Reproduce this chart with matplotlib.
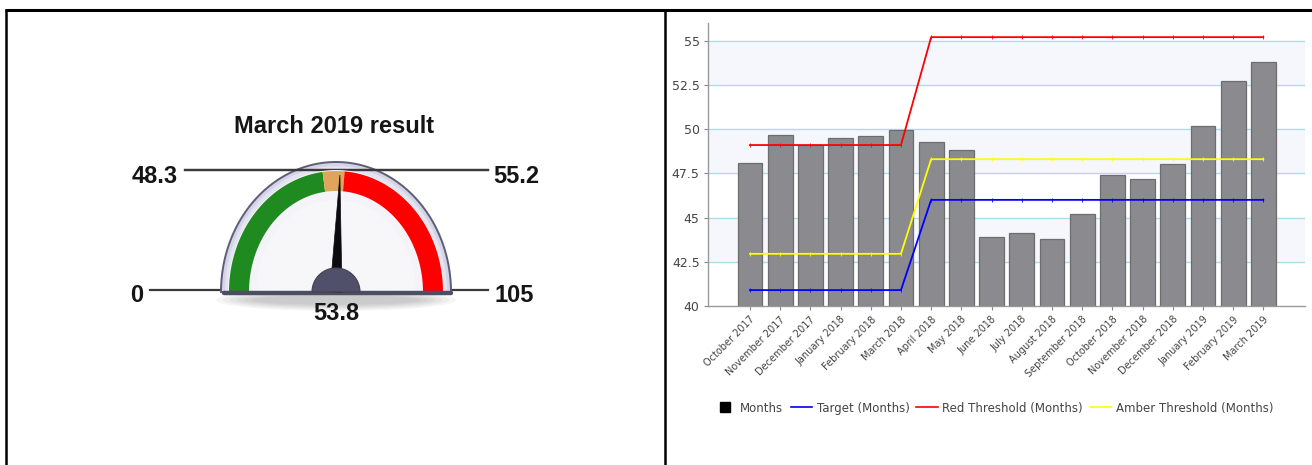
import matplotlib
matplotlib.use("Agg")
import matplotlib.pyplot as plt
import numpy as np
from matplotlib.lines import Line2D
from matplotlib.patches import Polygon, Ellipse


# ============================================================
# DATA
# ============================================================

months = [
    "October 2017", "November 2017", "December 2017", "January 2018",
    "February 2018", "March 2018", "April 2018", "May 2018", "June 2018",
    "July 2018", "August 2018", "September 2018", "October 2018",
    "November 2018", "December 2018", "January 2019", "February 2019",
    "March 2019",
]
month_values = [48.1, 49.65, 49.1, 49.5, 49.6, 49.95, 49.3, 48.8, 43.9,
                44.1, 43.8, 45.2, 47.4, 47.2, 48.0, 50.2, 52.7, 53.8]
target = [40.9, 40.9, 40.9, 40.9, 40.9, 40.9, 46.0, 46.0, 46.0,
          46.0, 46.0, 46.0, 46.0, 46.0, 46.0, 46.0, 46.0, 46.0]
red_threshold = [49.1, 49.1, 49.1, 49.1, 49.1, 49.1, 55.2, 55.2, 55.2,
                 55.2, 55.2, 55.2, 55.2, 55.2, 55.2, 55.2, 55.2, 55.2]
amber_threshold = [42.95, 42.95, 42.95, 42.95, 42.95, 42.95, 48.3, 48.3, 48.3,
                   48.3, 48.3, 48.3, 48.3, 48.3, 48.3, 48.3, 48.3, 48.3]
y_ticks = [40, 42.5, 45, 47.5, 50, 52.5, 55]
y_tick_labels = ["40", "42.5", "45", "47.5", "50", "52.5", "55"]

gauge_title = "March 2019 result"
gauge_min, gauge_max = 0, 105
gauge_amber, gauge_red = 48.3, 55.2
gauge_value = 53.8

W, H = 1312, 465
fig = plt.figure(figsize=(W / 100, H / 100), dpi=100)

# ------------------------------------------------------------
# background canvas in pixel coords (table borders + gauge)
# ------------------------------------------------------------
bg = fig.add_axes([0, 0, 1, 1])
bg.set_xlim(0, W)
bg.set_ylim(H, 0)
bg.axis("off")

bg.plot([5, W], [10.5, 10.5], color="black", lw=2.2, solid_capstyle="butt")
bg.plot([6, 6], [9.5, H], color="black", lw=1.8, solid_capstyle="butt")
bg.plot([665, 665], [10.5, H], color="black", lw=1.8, solid_capstyle="butt")

CX, CY = 336, 292


def ang(v):
    return np.pi * (1 - (v - gauge_min) / (gauge_max - gauge_min))


def half_ellipse(rx, ry, n=120):
    a = np.linspace(np.pi, 0, n)
    return np.column_stack([CX + rx * np.cos(a), CY - ry * np.sin(a)])


def band(v0, v1, r_in, r_out, color):
    a = np.linspace(ang(v0), ang(v1), 80)
    outer = np.column_stack([CX + r_out[0] * np.cos(a), CY - r_out[1] * np.sin(a)])
    a = a[::-1]
    inner = np.column_stack([CX + r_in[0] * np.cos(a), CY - r_in[1] * np.sin(a)])
    bg.add_patch(Polygon(np.vstack([outer, inner]), closed=True,
                         facecolor=color, edgecolor="none", zorder=5))


# label guide lines
bg.plot([185, 488], [170, 170], color="#3a3a3a", lw=1.6, zorder=2)
bg.plot([150, 488], [289.5, 289.5], color="#3a3a3a", lw=1.6, zorder=0)

# soft shadow under gauge
for k in range(6):
    bg.add_patch(Ellipse((CX, 300), 240 - k * 14, 22 - k * 2.5,
                         facecolor="#000000", alpha=0.035, edgecolor="none", zorder=0.5))

# bezel
bez = half_ellipse(115, 130)
bg.add_patch(Polygon(bez, closed=True, facecolor="#d3d4e8", edgecolor="#5d5d75",
                     lw=1.4, zorder=1))
bg.add_patch(Polygon(half_ellipse(111, 126), closed=True, facecolor="#e4e4f1",
                     edgecolor="none", zorder=1.5))
bg.plot([185, 488], [170, 170], color="#3a3a3a", lw=1.6, zorder=2.5)
# face
bg.add_patch(Polygon(half_ellipse(108, 122), closed=True, facecolor="#f3f3f8",
                     edgecolor="none", zorder=3))
bg.add_patch(Polygon(half_ellipse(80, 92), closed=True, facecolor="#f7f7fa",
                     edgecolor="none", zorder=3.5))

band(gauge_min, gauge_amber, (87, 101), (107, 121), "#1f8a1f")
band(gauge_amber, gauge_red, (87, 101), (107, 121), "#e0a55a")
band(gauge_red, gauge_max, (87, 101), (107, 121), "#ff0000")

# base bar
bg.plot([224, 451], [293, 293], color="#4e4e62", lw=3.2, solid_capstyle="round", zorder=6)

# needle
t = ang(gauge_value)
tip = (CX + 100 * np.cos(t), CY - 117 * np.sin(t))
px, py = np.sin(t) * 6, np.cos(t) * 6
bg.add_patch(Polygon([tip, (CX - px, CY - py), (CX + px, CY + py)], closed=True,
                     facecolor="#0b0b10", edgecolor="#0b0b10", lw=0.5, zorder=7))
# hub
h = np.linspace(np.pi, 0, 60)
hub = np.column_stack([CX + 24 * np.cos(h), CY - 24 * np.sin(h)])
bg.add_patch(Polygon(hub, closed=True, facecolor="#50506a", edgecolor="#404052",
                     lw=0.8, zorder=8))

gfont = dict(family="Liberation Sans", fontweight="bold", fontsize=17, color="#151515")
bg.text(334, 133, gauge_title, ha="center", va="baseline", **gfont)
bg.text(178, 183, f"{gauge_amber:g}", ha="right", va="baseline", **gfont)
bg.text(493, 183, f"{gauge_red:g}", ha="left", va="baseline", **gfont)
bg.text(143, 302, f"{gauge_min:g}", ha="right", va="baseline", **gfont)
bg.text(494, 302, f"{gauge_max:g}", ha="left", va="baseline", **gfont)
bg.text(336, 320, f"{gauge_value:g}", ha="center", va="baseline", **gfont)

# ------------------------------------------------------------
# bar + threshold chart
# ------------------------------------------------------------
ax = fig.add_axes([708 / W, 1 - 306 / H, (1305 - 708) / W, (306 - 23) / H])
x = np.arange(len(months))

ax.set_ylim(40, 56)
ax.set_xlim(-1.39, 18.38)

for lo in (42.5, 47.5, 52.5):
    ax.axhspan(lo, lo + 2.5, color="#f5f7fd", zorder=0, lw=0)
for yt in y_ticks[1:]:
    ax.axhline(yt, color="#a9dfe8", lw=1, zorder=0.5)

ax.bar(x, np.array(month_values) - 40, bottom=40, width=0.82,
       color="#8a8a8f", edgecolor="#6d6d70", lw=0.9, zorder=2)

ax.plot(x, target, color="#0000ff", lw=1.3, zorder=3,
        marker="|", markersize=3, markeredgewidth=0.6)
ax.plot(x, red_threshold, color="#ff0000", lw=1.3, zorder=3,
        marker="|", markersize=3, markeredgewidth=0.6)
ax.plot(x, amber_threshold, color="#ffff00", lw=1.3, zorder=3,
        marker="|", markersize=3, markeredgewidth=0.6)

ax.set_yticks(y_ticks)
ax.set_yticklabels(y_tick_labels, fontsize=9, color="#444444")
ax.set_xticks(x)
ax.set_xticklabels(months, rotation=45, ha="right", va="top",
                   rotation_mode="anchor", fontsize=7, color="#444444")
ax.tick_params(axis="both", length=3, color="#888888", width=0.8)
ax.tick_params(axis="x", pad=3)
ax.tick_params(axis="y", pad=3)

for s in ("top", "right"):
    ax.spines[s].set_visible(False)
for s in ("left", "bottom"):
    ax.spines[s].set_color("#999999")
    ax.spines[s].set_linewidth(1)
ax.set_facecolor("white")

handles = [
    Line2D([], [], marker="s", color="black", ls="none", markersize=7),
    Line2D([], [], color="#0000ff", lw=1.2),
    Line2D([], [], color="#ff0000", lw=1.2),
    Line2D([], [], color="#ffff00", lw=1.2),
]
labels = ["Months", "Target (Months)", "Red Threshold (Months)",
          "Amber Threshold (Months)"]
leg = fig.legend(handles, labels, loc="center", bbox_to_anchor=(994 / W, 1 - 408 / H),
                 ncol=4, frameon=False, fontsize=8.5, handlelength=1.8,
                 handletextpad=0.4, columnspacing=0.6)
for txt in leg.get_texts():
    txt.set_color("#444444")

fig.savefig("out.png", dpi=100)
